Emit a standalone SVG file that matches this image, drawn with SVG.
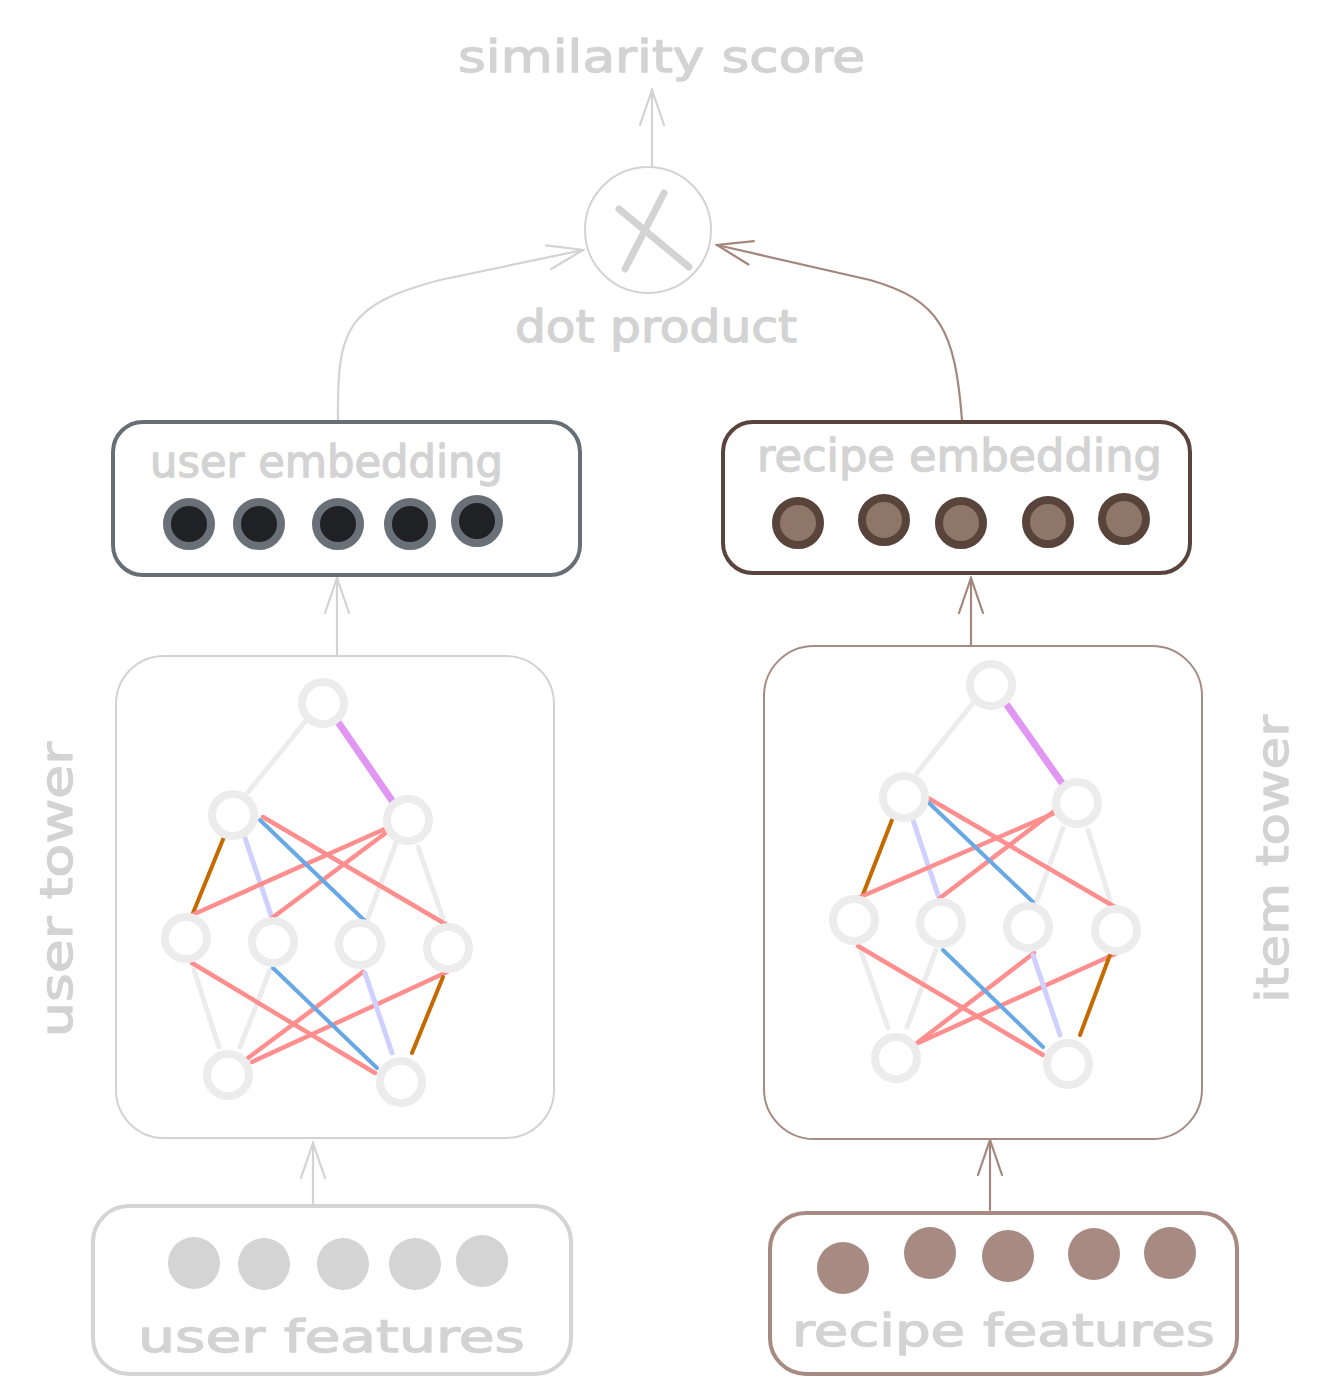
<svg xmlns="http://www.w3.org/2000/svg" width="1322" height="1394" viewBox="0 0 1322 1394">
<defs>
<style>
.lbl{font-family:"DejaVu Sans","Liberation Sans",sans-serif;fill:#d3d3d3;stroke:#d3d3d3;stroke-width:1.3;stroke-linejoin:round;font-size:44px}
.nd{fill:#ffffff;stroke:#ececec;stroke-width:8}
.eg{stroke:#ececec;stroke-width:5;stroke-linecap:round;fill:none}
.er{stroke:#ff8f8f;stroke-width:4.5;stroke-linecap:round;fill:none}
.eb{stroke:#68a8e4;stroke-width:4;stroke-linecap:round;fill:none}
.ev{stroke:#d0d0ff;stroke-width:5;stroke-linecap:round;fill:none}
.eo{stroke:#c46a00;stroke-width:4;stroke-linecap:round;fill:none}
.ep{stroke:#e096f2;stroke-width:7;stroke-linecap:round;fill:none}
.ag{stroke:#d3d3d3;stroke-width:2.2;fill:none;stroke-linecap:round}
.ab{stroke:#a3877d;stroke-width:2.2;fill:none;stroke-linecap:round}
</style>
<marker id="mg" viewBox="0 0 40 30" refX="38" refY="15" markerWidth="40" markerHeight="30" orient="auto" markerUnits="userSpaceOnUse">
<path d="M3,3 L38,15 L3,27" fill="none" stroke="#d3d3d3" stroke-width="2.2" stroke-linecap="round"/>
</marker>
<marker id="mb" viewBox="0 0 40 30" refX="38" refY="15" markerWidth="40" markerHeight="30" orient="auto" markerUnits="userSpaceOnUse">
<path d="M3,3 L38,15 L3,27" fill="none" stroke="#a3877d" stroke-width="2.2" stroke-linecap="round"/>
</marker>
</defs>
<rect width="1322" height="1394" fill="#ffffff"/>

<g id="title">
<text class="lbl" x="458" y="72" textLength="407" lengthAdjust="spacingAndGlyphs" font-size="50">similarity score</text>
</g>

<g id="dot-product">
<circle cx="648" cy="230" r="63" fill="#ffffff" stroke="#d3d3d3" stroke-width="2"/>
<path d="M619,209 L689,267 M664,193 L625,269" stroke="#d3d3d3" stroke-width="7" stroke-linecap="round" fill="none"/>
<text class="lbl" x="515" y="342" textLength="282" lengthAdjust="spacingAndGlyphs" font-size="48">dot product</text>
</g>

<g id="connectors">
<path class="ag" d="M652,166 L652,90" marker-end="url(#mg)"/>
<path class="ag" d="M338,421 C337,330 345,305 440,280 L583,250" marker-end="url(#mg)"/>
<path class="ab" d="M962,420 C955,330 940,300 870,280 L717,245" marker-end="url(#mb)"/>
<path class="ag" d="M337,655 L337,578" marker-end="url(#mg)"/>
<path class="ab" d="M971,645 L971,578" marker-end="url(#mb)"/>
<path class="ag" d="M313,1203 L313,1143" marker-end="url(#mg)"/>
<path class="ab" d="M990,1210 L990,1140" marker-end="url(#mb)"/>
</g>

<g id="user-embedding">
<rect x="113" y="422" width="467" height="153" rx="30" fill="#ffffff" stroke="#686e76" stroke-width="4"/>
<text class="lbl" x="150" y="477" textLength="353" lengthAdjust="spacingAndGlyphs" font-size="44">user embedding</text>
<g fill="#1f2125" stroke="#6a7078" stroke-width="8">
<circle cx="189" cy="524" r="22"/>
<circle cx="259" cy="524" r="22"/>
<circle cx="338" cy="524" r="22"/>
<circle cx="410" cy="524" r="22"/>
<circle cx="477" cy="521" r="22"/>
</g>
</g>

<g id="recipe-embedding">
<rect x="723" y="422" width="467" height="151" rx="30" fill="#ffffff" stroke="#58443b" stroke-width="4"/>
<text class="lbl" x="757" y="471" textLength="405" lengthAdjust="spacingAndGlyphs" font-size="44">recipe embedding</text>
<g fill="#8e7669" stroke="#58443b" stroke-width="8">
<circle cx="798" cy="523" r="22"/>
<circle cx="884" cy="520" r="22"/>
<circle cx="961" cy="523" r="22"/>
<circle cx="1048" cy="522" r="22"/>
<circle cx="1124" cy="519" r="22"/>
</g>
</g>

<g id="user-tower">
<rect x="116" y="656" width="438" height="482" rx="48" fill="none" stroke="#d3d3d3" stroke-width="2"/>
<text class="lbl" transform="translate(72,1037) rotate(-90)" textLength="295" lengthAdjust="spacingAndGlyphs" font-size="50">user tower</text>
<g>
<line class="eg" x1="305" y1="722" x2="248" y2="792"/>
<line class="ep" x1="338" y1="722" x2="393" y2="802"/>
<line class="eg" x1="396" y1="843" x2="367" y2="920"/>
<line class="eg" x1="418" y1="847" x2="443" y2="918"/>
<line class="eg" x1="194" y1="970" x2="219" y2="1047"/>
<line class="eg" x1="270" y1="970" x2="240" y2="1047"/>
<line class="eo" x1="224" y1="837" x2="193" y2="913"/>
<line class="ev" x1="245" y1="838" x2="272" y2="918"/>
<line class="er" x1="263" y1="817" x2="447" y2="925"/>
<line class="er" x1="387" y1="828" x2="192" y2="915" stroke-width="6"/>
<line class="er" x1="387" y1="832" x2="272" y2="918"/>
<line class="eb" x1="260" y1="820" x2="365" y2="921"/>
<line class="er" x1="192" y1="963" x2="375" y2="1073"/>
<line class="er" x1="363" y1="972" x2="248" y2="1058" stroke-width="6"/>
<line class="er" x1="447" y1="972" x2="252" y2="1062"/>
<line class="eb" x1="273" y1="968" x2="377" y2="1068" stroke-width="5"/>
<line class="ev" x1="365" y1="973" x2="392" y2="1053"/>
<line class="eo" x1="443" y1="977" x2="412" y2="1053"/>
</g>
<g>
<circle class="nd" cx="323" cy="703" r="21"/>
<circle class="nd" cx="233" cy="815" r="21"/>
<circle class="nd" cx="408" cy="820" r="21"/>
<circle class="nd" cx="186" cy="938" r="21"/>
<circle class="nd" cx="273" cy="942" r="21"/>
<circle class="nd" cx="360" cy="944" r="21"/>
<circle class="nd" cx="448" cy="948" r="21"/>
<circle class="nd" cx="228" cy="1075" r="21"/>
<circle class="nd" cx="401" cy="1082" r="21"/>
</g>
</g>

<g id="item-tower">
<rect x="764" y="646" width="438" height="493" rx="50" fill="none" stroke="#a58c83" stroke-width="2"/>
<text class="lbl" transform="translate(1288,1003) rotate(-90)" textLength="288" lengthAdjust="spacingAndGlyphs" font-size="50">item tower</text>
<g>
<line class="eg" x1="973" y1="703" x2="917" y2="773"/>
<line class="ep" x1="1007" y1="705" x2="1062" y2="783"/>
<line class="eg" x1="1063" y1="828" x2="1037" y2="900"/>
<line class="eg" x1="1088" y1="830" x2="1110" y2="900"/>
<line class="eg" x1="860" y1="948" x2="888" y2="1028"/>
<line class="eg" x1="936" y1="950" x2="907" y2="1027"/>
<line class="eo" x1="892" y1="820" x2="862" y2="897" stroke-width="5"/>
<line class="ev" x1="913" y1="820" x2="939" y2="898"/>
<line class="er" x1="928" y1="798" x2="1115" y2="907"/>
<line class="er" x1="1057" y1="812" x2="858" y2="898"/>
<line class="er" x1="1053" y1="812" x2="940" y2="898" stroke-width="6"/>
<line class="eb" x1="928" y1="802" x2="1033" y2="902" stroke-width="5"/>
<line class="er" x1="858" y1="946" x2="1043" y2="1055"/>
<line class="er" x1="1034" y1="953" x2="917" y2="1043"/>
<line class="er" x1="1115" y1="954" x2="918" y2="1043" stroke-width="5"/>
<line class="eb" x1="943" y1="950" x2="1043" y2="1047"/>
<line class="ev" x1="1033" y1="955" x2="1060" y2="1035"/>
<line class="eo" x1="1110" y1="955" x2="1080" y2="1035"/>
</g>
<g>
<circle class="nd" cx="991" cy="685" r="21"/>
<circle class="nd" cx="904" cy="797" r="21"/>
<circle class="nd" cx="1077" cy="803" r="21"/>
<circle class="nd" cx="854" cy="920" r="21"/>
<circle class="nd" cx="941" cy="923" r="21"/>
<circle class="nd" cx="1028" cy="927" r="21"/>
<circle class="nd" cx="1116" cy="930" r="21"/>
<circle class="nd" cx="896" cy="1058" r="21"/>
<circle class="nd" cx="1068" cy="1064" r="21"/>
</g>
</g>

<g id="user-features">
<rect x="93" y="1206" width="478" height="168" rx="36" fill="#ffffff" stroke="#d4d4d4" stroke-width="4"/>
<g fill="#d4d4d4">
<circle cx="194" cy="1263" r="26"/>
<circle cx="264" cy="1264" r="26"/>
<circle cx="343" cy="1264" r="26"/>
<circle cx="415" cy="1264" r="26"/>
<circle cx="482" cy="1261" r="26"/>
</g>
<text class="lbl" x="138" y="1352" textLength="387" lengthAdjust="spacingAndGlyphs" font-size="54">user features</text>
</g>

<g id="recipe-features">
<rect x="770" y="1213" width="467" height="161" rx="36" fill="#ffffff" stroke="#a78b82" stroke-width="4"/>
<g fill="#a78b82">
<circle cx="843" cy="1268" r="26"/>
<circle cx="930" cy="1253" r="26"/>
<circle cx="1008" cy="1256" r="26"/>
<circle cx="1094" cy="1254" r="26"/>
<circle cx="1170" cy="1253" r="26"/>
</g>
<text class="lbl" x="792" y="1346" textLength="423" lengthAdjust="spacingAndGlyphs" font-size="54">recipe features</text>
</g>
</svg>
